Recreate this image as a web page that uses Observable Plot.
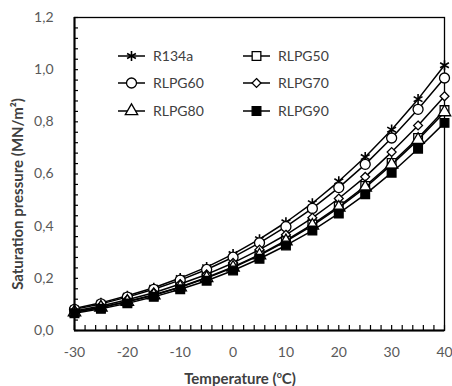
<!DOCTYPE html>
<html><head><meta charset="utf-8">
<script src="https://cdn.jsdelivr.net/npm/d3@7"></script>
<script src="https://cdn.jsdelivr.net/npm/@observablehq/plot@0.6"></script>
<style>
body{margin:0;background:#fff;}
#wrap{position:relative;width:452px;height:386px;font-family:Lato,sans-serif;}
.ttl{position:absolute;font-weight:bold;font-size:15px;color:#404040;white-space:nowrap;line-height:1;}
.ttl sup{font-size:9px;vertical-align:6px;line-height:0;}
#legend{position:absolute;left:0;top:0;}
</style></head><body><div id="wrap"></div>
<script>
// ---- data ----
const temperatures = [-30, -25, -20, -15, -10, -5, 0, 5, 10, 15, 20, 25, 30, 35, 40];
const R134a  = [0.084, 0.106, 0.133, 0.164, 0.201, 0.243, 0.293, 0.350, 0.415, 0.488, 0.572, 0.665, 0.770, 0.887, 1.017];
const RLPG50 = [0.071, 0.089, 0.111, 0.137, 0.167, 0.203, 0.244, 0.291, 0.345, 0.407, 0.476, 0.554, 0.642, 0.738, 0.845];
const RLPG60 = [0.081, 0.102, 0.128, 0.158, 0.193, 0.234, 0.281, 0.336, 0.398, 0.468, 0.548, 0.637, 0.738, 0.848, 0.968];
const RLPG70 = [0.075, 0.094, 0.118, 0.145, 0.178, 0.215, 0.259, 0.310, 0.367, 0.432, 0.506, 0.589, 0.684, 0.786, 0.898];
const RLPG80 = [0.070, 0.088, 0.110, 0.135, 0.166, 0.201, 0.241, 0.288, 0.342, 0.402, 0.471, 0.548, 0.636, 0.731, 0.837];
const RLPG90 = [0.066, 0.083, 0.104, 0.129, 0.158, 0.191, 0.230, 0.275, 0.326, 0.383, 0.449, 0.522, 0.605, 0.697, 0.796];
const seriesNames = ["R134a", "RLPG50", "RLPG60", "RLPG70", "RLPG80", "RLPG90"];
const seriesValues = [R134a, RLPG50, RLPG60, RLPG70, RLPG80, RLPG90];
const xTicks = [-30, -20, -10, 0, 10, 20, 30, 40];
const yTicks = [0, 0.2, 0.4, 0.6, 0.8, 1.0, 1.2];
const xTitle = "Temperature (";
const yTitle = "Saturation pressure (MN/m²)";
// legend order (two columns)
const legendCols = [["R134a", "RLPG60", "RLPG80"], ["RLPG50", "RLPG70", "RLPG90"]];

// ---- styles ----
const styles = {
  R134a:  {symbol: "asterisk", fill: "none",  r: 4.8, sw: 1.6},
  RLPG50: {symbol: "square",   fill: "white", r: 4.9, sw: 1.3},
  RLPG60: {symbol: "circle",   fill: "white", r: 5.0, sw: 1.3},
  RLPG70: {symbol: "diamond2", fill: "white", r: 4.0, sw: 1.3},
  RLPG80: {symbol: "triangle", fill: "white", r: 4.6, sw: 1.3},
  RLPG90: {symbol: "square",   fill: "black", r: 4.9, sw: 1.3}
};

const W = 452, H = 386, mL = 74, mT = 17, mR = 8, mB = 56;
const plotW = W - mL - mR, plotH = H - mT - mB;

const xMinor = d3.range(0, 36).map(i => -30 + 2 * i);
const yMinor = d3.range(0, 31).map(i => i * 0.04);

const marks = [
  Plot.frame({stroke: "black", strokeWidth: 1.3}),
  Plot.tickX(xMinor, {x: d => d, stroke: "black", strokeWidth: 1.2, insetTop: plotH - 5}),
  Plot.tickY(yMinor, {y: d => d, stroke: "black", strokeWidth: 1.2, insetRight: plotW - 4}),
  Plot.axisX({ticks: xTicks, tickSize: 0, tickPadding: 17, tickFormat: d => String(d), fontSize: 14, color: "#595959", label: null}),
  Plot.axisY({ticks: yTicks, tickSize: 0, tickPadding: 21, tickFormat: d => d.toFixed(1).replace(".", ","), fontSize: 14, color: "#595959", label: null})
];
seriesNames.forEach((name, k) => {
  const rows = temperatures.map((t, i) => ({t, v: seriesValues[k][i]}));
  const st = styles[name];
  marks.push(Plot.line(rows, {x: "t", y: "v", stroke: "black", strokeWidth: 1.5}));
  marks.push(Plot.dot(rows, {x: "t", y: "v", symbol: st.symbol, r: st.r, fill: st.fill, stroke: "black", strokeWidth: st.sw}));
});
marks.push(Plot.ruleX([xTicks[0]], {stroke: "black", strokeWidth: 2}));
marks.push(Plot.ruleY([yTicks[0]], {stroke: "black", strokeWidth: 2}));

const chart = Plot.plot({
  width: W, height: H,
  marginLeft: mL, marginTop: mT, marginRight: mR, marginBottom: mB,
  style: {fontFamily: "Lato, sans-serif", background: "white"},
  x: {domain: [-30, 40]},
  y: {domain: [0, 1.2]},
  marks
});
const wrap = document.getElementById("wrap");
wrap.appendChild(chart);

// axis titles
const xt = document.createElement("div");
xt.className = "ttl";
xt.innerHTML = xTitle + "<sup>o</sup>C)";
xt.style.left = "240px"; xt.style.top = "378px";
xt.style.transform = "translate(-50%,-50%)";
wrap.appendChild(xt);
const yt = document.createElement("div");
yt.className = "ttl";
yt.textContent = yTitle;
yt.style.left = "17px"; yt.style.top = "194px";
yt.style.transform = "translate(-50%,-50%) rotate(-90deg)";
wrap.appendChild(yt);

// legend
const leg = d3.select(wrap).append("svg").attr("id", "legend").attr("width", W).attr("height", H);
const colX = [118, 243], rowY = [56, 83, 111];
legendCols.forEach((col, ci) => col.forEach((name, ri) => {
  const st = styles[name];
  const g = leg.append("g").attr("transform", `translate(${colX[ci]},${rowY[ri]})`);
  g.append("line").attr("x1", 0).attr("x2", 27).attr("stroke", "black").attr("stroke-width", 1.5);
  const sym = {asterisk: d3.symbolAsterisk, square: d3.symbolSquare, circle: d3.symbolCircle, diamond2: d3.symbolDiamond2, triangle: d3.symbolTriangle}[st.symbol];
  g.append("path").attr("transform", "translate(13.5,0)")
    .attr("d", d3.symbol(sym, st.r * st.r * Math.PI)())
    .attr("fill", st.fill).attr("stroke", "black").attr("stroke-width", st.sw);
  g.append("text").attr("x", 35).attr("dy", "0.35em").attr("font-size", 14)
    .attr("font-family", "Lato, sans-serif").attr("fill", "#404040").text(name);
}));
</script>
</body></html>
